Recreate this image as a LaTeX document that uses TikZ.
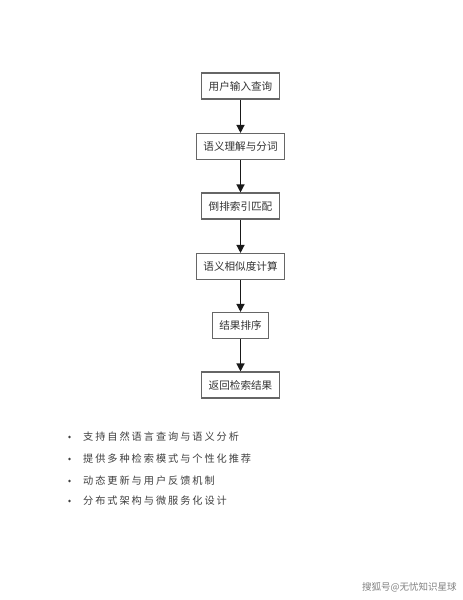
\documentclass[tikz,border=0pt]{standalone}
\usepackage{fontspec}
\newfontfamily\cjk{Noto Sans CJK SC}
\newfontfamily\cjkls[LetterSpace=19]{Noto Sans CJK SC}
\usetikzlibrary{arrows.meta}
\begin{document}
\begin{tikzpicture}[x=1pt,y=-1pt,
  stepbox/.style={draw=black!60,line width=1.1pt,fill=white,inner xsep=7pt,inner ysep=0pt,
    minimum height=26pt,font=\cjk\fontsize{10.6pt}{12pt}\selectfont,text=black!80},
  flow/.style={-{Triangle[length=8pt,width=8pt]},line width=1.3pt,black!90},
  bul/.style={anchor=west,inner sep=0pt,font=\cjkls\fontsize{10.2pt}{12pt}\selectfont,text=black!75}]
\useasboundingbox (0,0) rectangle (463,600);
\fill[white] (0,0) rectangle (463,600);
\node[stepbox] (n1) at (240.5,86) {用户输入查询};
\node[stepbox] (n2) at (240.5,146.5) {语义理解与分词};
\node[stepbox] (n3) at (240.5,206) {倒排索引匹配};
\node[stepbox] (n4) at (240.5,266.5) {语义相似度计算};
\node[stepbox] (n5) at (240.5,325.5) {结果排序};
\node[stepbox] (n6) at (240.5,385) {返回检索结果};
\draw[flow] (n1) -- (n2);
\draw[flow] (n2) -- (n3);
\draw[flow] (n3) -- (n4);
\draw[flow] (n4) -- (n5);
\draw[flow] (n5) -- (n6);
\foreach \yy/\tt [count=\i] in {437/支持自然语言查询与语义分析,459/提供多种检索模式与个性化推荐,481/动态更新与用户反馈机制,501/分布式架构与微服务化设计}{
  \fill[black!75] (69.5,\yy) circle (1.4pt);
  \node[bul] (b\i) at (83,\yy) {\tt};
}
\node[anchor=west,inner sep=0pt,font=\cjk\fontsize{9.5pt}{11pt}\selectfont,text=black!50] (wm) at (362,587) {搜狐号@无忧知识星球};
\end{tikzpicture}
\end{document}
